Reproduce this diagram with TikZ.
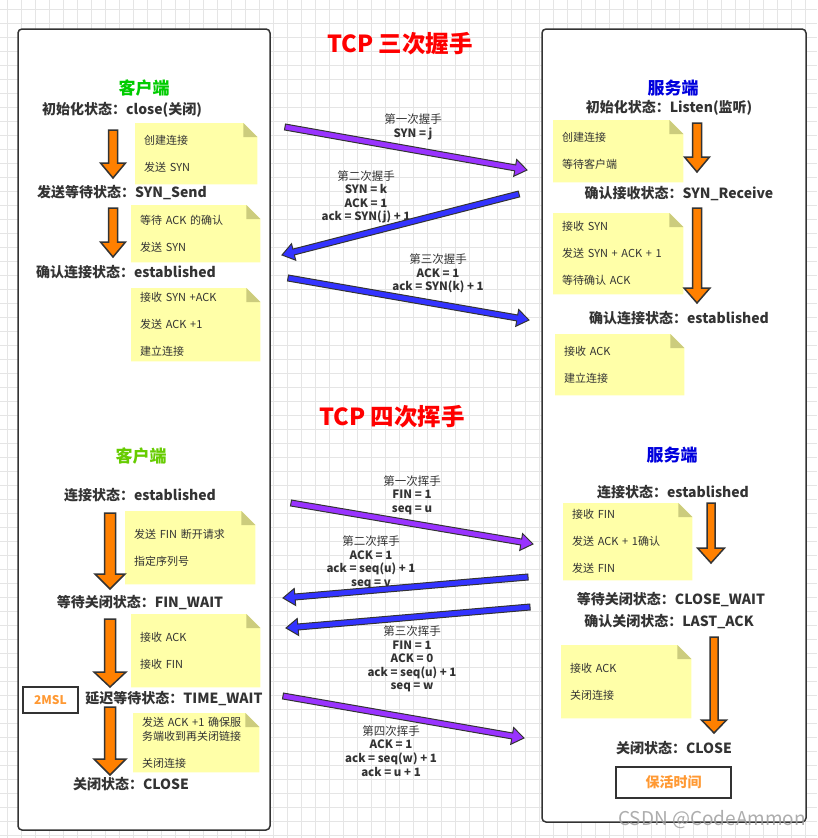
\documentclass[tikz,border=0pt]{standalone}
\usepackage{fontspec}
\setmainfont{Noto Sans CJK SC}
\usetikzlibrary{calc, positioning}
\definecolor{textgray}{RGB}{51,51,51}
\definecolor{gridgray}{RGB}{229,229,229}
\definecolor{titlered}{RGB}{255,0,0}
\definecolor{clientgreen}{RGB}{0,204,0}
\definecolor{clientlime}{RGB}{102,204,0}
\definecolor{serverblue}{RGB}{0,0,221}
\definecolor{arroworange}{RGB}{255,128,0}
\definecolor{tagorange}{RGB}{255,153,51}
\definecolor{msgpurple}{RGB}{153,51,255}
\definecolor{msgblue}{RGB}{51,51,255}
\definecolor{notefill}{RGB}{255,255,168}
\definecolor{notefold}{RGB}{204,204,125}
\pgfdeclarelayer{grid}
\pgfdeclarelayer{paper}
\pgfsetlayers{grid,paper,main}

% #2 tail, #3 tip, #4 half shaft, #5 half head, #6 head length
\newcommand{\fatarrow}[6][]{%
  \coordinate (hb) at ($(#3)!#6pt!(#2)$);
  \draw[#1] ($(#2)!#4pt!90:(#3)$) -- ($(hb)!#4pt!90:(#3)$) -- ($(hb)!#5pt!90:(#3)$) -- (#3)
    -- ($(hb)!#5pt!-90:(#3)$) -- ($(hb)!#4pt!-90:(#3)$) -- ($(#2)!#4pt!-90:(#3)$) -- cycle;}

\begin{document}
\begin{tikzpicture}[x=1pt, y=-1pt,
  heading/.style={font=\fontsize{23.5}{27}\selectfont\bfseries, text=titlered},
  hostname/.style={font=\fontsize{17}{20}\selectfont\bfseries},
  state/.style={font=\fontsize{14}{16}\selectfont\bfseries, text=textgray, inner sep=0pt},
  note/.style 2 args={anchor=north west, inner xsep=9pt, inner ysep=0pt, text width=#1pt,
                      minimum height=#2pt, align=left, font=\fontsize{11}{27}\selectfont, text=textgray},
  msg/.style={font=\fontsize{11.5}{13.6}\selectfont\bfseries, text=textgray, align=center, inner sep=0pt},
  tag/.style={draw=textgray, line width=1.5pt, fill=white, text=tagorange, inner sep=0pt},
  hostbox/.style={draw=textgray, line width=1.5pt, fill=white, rounded corners=4pt},
  gridline/.style={draw=gridgray, line width=0.6pt},
  statearrow/.style={draw=textgray, line width=1.5pt, fill=arroworange},
  synarrow/.style={draw=textgray, line width=1pt, fill=msgpurple},
  ackarrow/.style={draw=textgray, line width=1pt, fill=msgblue}
]
\useasboundingbox (0,0) rectangle (817,838);

\begin{pgfonlayer}{grid}
\fill[white] (0,0) rectangle (817,838);
\foreach \gx in {7.3,21.3,...,817} \draw[gridline] (\gx,0) -- (\gx,838);
\foreach \gy in {9.3,23.3,...,838} \draw[gridline] (0,\gy) -- (817,\gy);
\end{pgfonlayer}

\node[heading] (shake) at (400,44) {TCP 三次握手};
\node[heading] (wave) at (392,417) {TCP 四次挥手};

% three-way handshake, client
\node[hostname, text=clientgreen] (client) at (144,88) {客户端};
\node[state] (cinit) at (122,110) {初始化状态：close(关闭)};
\node[state] (csend) at (122,193) {发送等待状态：SYN\_Send};
\node[state] (cest) at (126,272) {确认连接状态：established};
\node[note={104}{61}] (n1) at (135,123) {创建连接\\发送 SYN};
\node[note={111}{57}] (n2) at (131,205) {等待 ACK 的确认\\发送 SYN};
\node[note={111}{73}] (n3) at (131,288) {接收 SYN +ACK\\发送 ACK +1\\建立连接};

% three-way handshake, server
\node[hostname, text=serverblue] (server) at (673,88) {服务端};
\node[state] (sinit) at (669,108) {初始化状态：Listen(监听)};
\node[state] (srecv) at (679,194) {确认接收状态：SYN\_Receive};
\node[state] (sest) at (679,318) {确认连接状态：established};
\node[note={112}{62}] (m1) at (553,120) {创建连接\\等待客户端};
\node[note={112}{81}] (m2) at (553,213) {接收 SYN\\发送 SYN + ACK + 1\\等待确认 ACK};
\node[note={111}{61}] (m3) at (555,334) {接收 ACK\\建立连接};

\node[msg] (hs1) at (413,127) {{\mdseries 第一次握手}\\SYN = j};
\node[msg] (hs2) at (366,197) {{\mdseries 第二次握手}\\SYN = k\\ACK = 1\\ack = SYN(j) + 1};
\node[msg] (hs3) at (438,273.5) {{\mdseries 第三次握手}\\ACK = 1\\ack = SYN(k) + 1};

% four-way wave, client
\node[hostname, text=clientlime] (client2) at (141,456) {客户端};
\node[state] (cconn) at (140,495) {连接状态：established};
\node[state] (cfin) at (140,603) {等待关闭状态：FIN\_WAIT};
\node[state] (ctime) at (174,699) {延迟等待状态：TIME\_WAIT};
\node[state] (cclose) at (131,784) {关闭状态：CLOSE};
\node[tag, minimum width=55pt, minimum height=26pt, font=\fontsize{12}{14}\selectfont\bfseries] (msl) at (50.5,700) {2MSL};
\node[note={112}{73}] (n4) at (125,511) {发送 FIN 断开请求\\指定序列号};
\node[note={111}{73}] (n5) at (131,614) {接收 ACK\\接收 FIN};
\node[note={108}{59}, font=\fontsize{11}{13.5}\selectfont] (n6) at (133,713) {发送 ACK +1 确保服\\务端收到再关闭链接\\[13.5pt]关闭连接};

% four-way wave, server
\node[hostname, text=serverblue] (server2) at (672,455) {服务端};
\node[state] (sconn) at (673,492) {连接状态：established};
\node[state] (swait) at (671,600) {等待关闭状态：CLOSE\_WAIT};
\node[state] (slast) at (669,622) {确认关闭状态：LAST\_ACK};
\node[state] (sclose) at (674,748) {关闭状态：CLOSE};
\node[tag, minimum width=115pt, minimum height=31pt, font=\fontsize{14}{16}\selectfont\bfseries] (alive) at (673.5,782.5) {保活时间};
\node[note={111}{77}] (m4) at (563,503) {接收 FIN\\发送 ACK + 1确认\\发送 FIN};
\node[note={112}{73}] (m5) at (561,645) {接收 ACK\\关闭连接};

\node[msg] (wv1) at (412,495) {{\mdseries 第一次挥手}\\FIN = 1\\seq = u};
\node[msg] (wv2) at (371,562.5) {{\mdseries 第二次挥手}\\ACK = 1\\ack = seq(u) + 1\\seq = v};
\node[msg] (wv3) at (412,659) {{\mdseries 第三次挥手}\\FIN = 1\\ACK = 0\\ack = seq(u) + 1\\seq = w};
\node[msg] (wv4) at (391,751) {{\mdseries 第四次挥手}\\ACK = 1\\ack = seq(w) + 1\\ack = u + 1};

\begin{pgfonlayer}{paper}
\draw[hostbox] (18,29) rectangle (270,830);
\draw[hostbox] (542,29) rectangle (806,822);
\foreach \n in {n1,n2,n3,n4,n5,n6,m1,m2,m3,m4,m5} {
  \fill[notefill] (\n.south west) |- ($(\n.north east)+(-14,0)$) -- ($(\n.north east)+(0,14)$) -- (\n.south east) -- cycle;
  \fill[notefold] ($(\n.north east)+(-14,0)$) -- ($(\n.north east)+(0,14)$) -- ($(\n.north east)+(-14,14)$) -- cycle;
}
\end{pgfonlayer}

% state changes
\coordinate (c1a) at (113,130); \coordinate (c1b) at (113,178);
\coordinate (c2a) at (113,208); \coordinate (c2b) at (113,257);
\coordinate (s1a) at (697,123); \coordinate (s1b) at (697,172);
\coordinate (s2a) at (697,208); \coordinate (s2b) at (697,303);
\coordinate (c3a) at (110,513); \coordinate (c3b) at (110,589);
\coordinate (c4a) at (110,619); \coordinate (c4b) at (110,687);
\coordinate (c5a) at (110,707); \coordinate (c5b) at (110,775);
\coordinate (s3a) at (711,503); \coordinate (s3b) at (711,563);
\coordinate (s4a) at (714,637); \coordinate (s4b) at (714,733);
\fatarrow[statearrow]{c1a}{c1b}{4.5}{12.5}{15}
\fatarrow[statearrow]{c2a}{c2b}{4.5}{12.5}{15}
\fatarrow[statearrow]{s1a}{s1b}{4.5}{12.5}{15}
\fatarrow[statearrow]{s2a}{s2b}{4.5}{13}{15}
\fatarrow[statearrow]{c3a}{c3b}{5.5}{15}{15}
\fatarrow[statearrow]{c4a}{c4b}{5.5}{16}{15}
\fatarrow[statearrow]{c5a}{c5b}{5.5}{16}{16}
\fatarrow[statearrow]{s3a}{s3b}{4}{13.5}{15}
\fatarrow[statearrow]{s4a}{s4b}{4}{12.5}{13}

% segments
\coordinate (h1a) at (285,127); \coordinate (h1b) at (527,170);
\coordinate (h2a) at (519,194); \coordinate (h2b) at (282,255);
\coordinate (h3a) at (288,278); \coordinate (h3b) at (529,320);
\coordinate (w1a) at (291,503); \coordinate (w1b) at (533,544);
\coordinate (w2a) at (528,577); \coordinate (w2b) at (283,598);
\coordinate (w3a) at (530,607); \coordinate (w3b) at (286,628);
\coordinate (w4a) at (283,696); \coordinate (w4b) at (524,738);
\fatarrow[synarrow]{h1a}{h1b}{3}{8.5}{12}
\fatarrow[ackarrow]{h2a}{h2b}{3}{8.5}{12}
\fatarrow[ackarrow]{h3a}{h3b}{3}{8.5}{12}
\fatarrow[synarrow]{w1a}{w1b}{3}{8.5}{12}
\fatarrow[ackarrow]{w2a}{w2b}{3}{8.5}{12}
\fatarrow[ackarrow]{w3a}{w3b}{3}{8.5}{12}
\fatarrow[synarrow]{w4a}{w4b}{3}{8.5}{12}

\node[font=\fontsize{19}{22}\selectfont, text=gray!75, opacity=0.85] (mark) at (712,820) {CSDN @CodeAmmon};
\end{tikzpicture}
\end{document}
